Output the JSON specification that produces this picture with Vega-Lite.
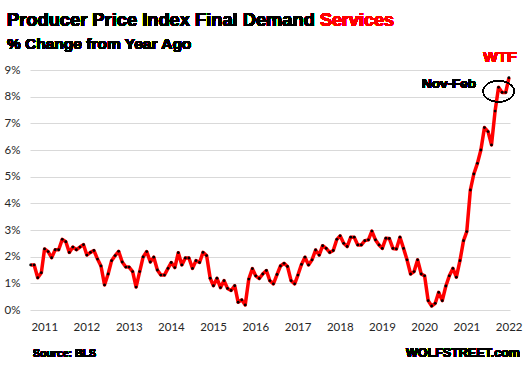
{
  "$schema": "https://vega.github.io/schema/vega-lite/v6.json",
  "width": 480,
  "height": 240,
  "autosize": {"type": "none"},
  "padding": {"left": 30, "top": 70, "right": 13, "bottom": 60},
  "background": "white",
  "config": {"view": {"stroke": null}, "font": "Lato"},
  "data": {
    "values": [
      {"date": "2010-11-01", "v": 1.69}, {"date": "2010-12-01", "v": 1.69},
      {"date": "2011-01-01", "v": 1.21}, {"date": "2011-02-01", "v": 1.40}, {"date": "2011-03-01", "v": 2.29}, {"date": "2011-04-01", "v": 2.19}, {"date": "2011-05-01", "v": 1.96}, {"date": "2011-06-01", "v": 2.26}, {"date": "2011-07-01", "v": 2.26}, {"date": "2011-08-01", "v": 2.65}, {"date": "2011-09-01", "v": 2.56}, {"date": "2011-10-01", "v": 2.16}, {"date": "2011-11-01", "v": 2.36}, {"date": "2011-12-01", "v": 2.26},
      {"date": "2012-01-01", "v": 2.36}, {"date": "2012-02-01", "v": 2.45}, {"date": "2012-03-01", "v": 2.06}, {"date": "2012-04-01", "v": 2.16}, {"date": "2012-05-01", "v": 2.23}, {"date": "2012-06-01", "v": 1.91}, {"date": "2012-07-01", "v": 1.65}, {"date": "2012-08-01", "v": 0.94}, {"date": "2012-09-01", "v": 1.35}, {"date": "2012-10-01", "v": 1.85}, {"date": "2012-11-01", "v": 2.04}, {"date": "2012-12-01", "v": 2.20},
      {"date": "2013-01-01", "v": 1.80}, {"date": "2013-02-01", "v": 1.61}, {"date": "2013-03-01", "v": 1.61}, {"date": "2013-04-01", "v": 1.44}, {"date": "2013-05-01", "v": 0.86}, {"date": "2013-06-01", "v": 1.44}, {"date": "2013-07-01", "v": 1.99}, {"date": "2013-08-01", "v": 2.19}, {"date": "2013-09-01", "v": 1.80}, {"date": "2013-10-01", "v": 1.98}, {"date": "2013-11-01", "v": 1.50}, {"date": "2013-12-01", "v": 1.31},
      {"date": "2014-01-01", "v": 1.31}, {"date": "2014-02-01", "v": 1.56}, {"date": "2014-03-01", "v": 1.78}, {"date": "2014-04-01", "v": 1.59}, {"date": "2014-05-01", "v": 2.15}, {"date": "2014-06-01", "v": 1.69}, {"date": "2014-07-01", "v": 1.95}, {"date": "2014-08-01", "v": 1.95}, {"date": "2014-09-01", "v": 1.56}, {"date": "2014-10-01", "v": 1.85}, {"date": "2014-11-01", "v": 1.78}, {"date": "2014-12-01", "v": 2.16},
      {"date": "2015-01-01", "v": 2.04}, {"date": "2015-02-01", "v": 1.19}, {"date": "2015-03-01", "v": 0.91}, {"date": "2015-04-01", "v": 1.19}, {"date": "2015-05-01", "v": 0.84}, {"date": "2015-06-01", "v": 1.10}, {"date": "2015-07-01", "v": 0.81}, {"date": "2015-08-01", "v": 0.73}, {"date": "2015-09-01", "v": 0.91}, {"date": "2015-10-01", "v": 0.29}, {"date": "2015-11-01", "v": 0.38}, {"date": "2015-12-01", "v": 0.19},
      {"date": "2016-01-01", "v": 1.16}, {"date": "2016-02-01", "v": 1.55}, {"date": "2016-03-01", "v": 1.28}, {"date": "2016-04-01", "v": 1.18}, {"date": "2016-05-01", "v": 1.35}, {"date": "2016-06-01", "v": 1.48}, {"date": "2016-07-01", "v": 1.10}, {"date": "2016-08-01", "v": 0.98}, {"date": "2016-09-01", "v": 1.33}, {"date": "2016-10-01", "v": 1.65}, {"date": "2016-11-01", "v": 1.75}, {"date": "2016-12-01", "v": 1.63},
      {"date": "2017-01-01", "v": 1.10}, {"date": "2017-02-01", "v": 0.98}, {"date": "2017-03-01", "v": 1.31}, {"date": "2017-04-01", "v": 1.71}, {"date": "2017-05-01", "v": 1.98}, {"date": "2017-06-01", "v": 1.69}, {"date": "2017-07-01", "v": 1.88}, {"date": "2017-08-01", "v": 2.25}, {"date": "2017-09-01", "v": 2.06}, {"date": "2017-10-01", "v": 2.41}, {"date": "2017-11-01", "v": 2.31}, {"date": "2017-12-01", "v": 2.16},
      {"date": "2018-01-01", "v": 2.23}, {"date": "2018-02-01", "v": 2.65}, {"date": "2018-03-01", "v": 2.78}, {"date": "2018-04-01", "v": 2.50}, {"date": "2018-05-01", "v": 2.38}, {"date": "2018-06-01", "v": 2.73}, {"date": "2018-07-01", "v": 2.73}, {"date": "2018-08-01", "v": 2.44}, {"date": "2018-09-01", "v": 2.44}, {"date": "2018-10-01", "v": 2.60}, {"date": "2018-11-01", "v": 2.63}, {"date": "2018-12-01", "v": 2.96},
      {"date": "2019-01-01", "v": 2.63}, {"date": "2019-02-01", "v": 2.44}, {"date": "2019-03-01", "v": 2.31}, {"date": "2019-04-01", "v": 2.69}, {"date": "2019-05-01", "v": 2.68}, {"date": "2019-06-01", "v": 2.31}, {"date": "2019-07-01", "v": 2.29}, {"date": "2019-08-01", "v": 2.73}, {"date": "2019-09-01", "v": 2.31}, {"date": "2019-10-01", "v": 1.88}, {"date": "2019-11-01", "v": 1.35}, {"date": "2019-12-01", "v": 1.44},
      {"date": "2020-01-01", "v": 1.88}, {"date": "2020-02-01", "v": 1.35}, {"date": "2020-03-01", "v": 1.28}, {"date": "2020-04-01", "v": 0.35}, {"date": "2020-05-01", "v": 0.15}, {"date": "2020-06-01", "v": 0.25}, {"date": "2020-07-01", "v": 0.66}, {"date": "2020-08-01", "v": 0.35}, {"date": "2020-09-01", "v": 0.90}, {"date": "2020-10-01", "v": 1.28}, {"date": "2020-11-01", "v": 1.56}, {"date": "2020-12-01", "v": 1.23},
      {"date": "2021-01-01", "v": 1.85}, {"date": "2021-02-01", "v": 2.60}, {"date": "2021-03-01", "v": 2.94}, {"date": "2021-04-01", "v": 4.50}, {"date": "2021-05-01", "v": 5.10}, {"date": "2021-06-01", "v": 5.50}, {"date": "2021-07-01", "v": 6.00}, {"date": "2021-08-01", "v": 6.84}, {"date": "2021-09-01", "v": 6.69}, {"date": "2021-10-01", "v": 6.19}, {"date": "2021-11-01", "v": 7.46}, {"date": "2021-12-01", "v": 8.35},
      {"date": "2022-01-01", "v": 8.16}, {"date": "2022-02-01", "v": 8.16}, {"date": "2022-03-01", "v": 8.71}
    ]
  },
  "encoding": {
    "x": {
      "field": "date",
      "type": "temporal",
      "scale": {
        "type": "utc",
        "domain": [
          {"year": 2010, "month": 10, "date": 26, "utc": true},
          {"year": 2022, "month": 3, "date": 10, "utc": true}
        ]
      },
      "axis": {
        "title": null,
        "grid": false,
        "domain": false,
        "ticks": false,
        "format": "%Y",
        "formatType": "utc",
        "values": [
          {"year": 2011, "month": 1, "date": 1, "utc": true},
          {"year": 2012, "month": 1, "date": 1, "utc": true},
          {"year": 2013, "month": 1, "date": 1, "utc": true},
          {"year": 2014, "month": 1, "date": 1, "utc": true},
          {"year": 2015, "month": 1, "date": 1, "utc": true},
          {"year": 2016, "month": 1, "date": 1, "utc": true},
          {"year": 2017, "month": 1, "date": 1, "utc": true},
          {"year": 2018, "month": 1, "date": 1, "utc": true},
          {"year": 2019, "month": 1, "date": 1, "utc": true},
          {"year": 2020, "month": 1, "date": 1, "utc": true},
          {"year": 2021, "month": 1, "date": 1, "utc": true},
          {"year": 2022, "month": 1, "date": 1, "utc": true}
        ],
        "labelOffset": 6.5,
        "labelPadding": 11,
        "labelFont": "Lato",
        "labelFontSize": 11.5,
        "labelColor": "#262626",
        "labelFlush": false,
        "labelOverlap": false
      }
    },
    "y": {
      "field": "v",
      "type": "quantitative",
      "scale": {"domain": [0, 9], "nice": false},
      "axis": {
        "title": null,
        "values": [0, 1, 2, 3, 4, 5, 6, 7, 8, 9],
        "labelExpr": "datum.value + '%'",
        "domain": false,
        "ticks": false,
        "grid": true,
        "gridColor": "#d9d9d9",
        "gridWidth": 1,
        "labelPadding": 10,
        "labelFont": "Lato",
        "labelFontSize": 11.5,
        "labelColor": "#262626"
      }
    }
  },
  "layer": [
    {"mark": {"type": "line", "color": "#ff0000", "strokeWidth": 3.5, "strokeJoin": "round"}},
    {"mark": {"type": "point", "filled": true, "color": "#000000", "size": 8, "opacity": 1}},
    {
      "mark": {"type": "text", "text": "Producer Price Index Final Demand", "color": "#000000", "font": "Liberation Sans", "fontSize": 18.3, "fontWeight": "bold", "align": "left", "baseline": "alphabetic"},
      "encoding": {
        "x": {"datum": {"year": 2010, "month": 4, "date": 10, "utc": true}, "type": "temporal"},
        "y": {"datum": 10.65, "type": "quantitative"}
      }
    },
    {
      "mark": {"type": "text", "text": "Services", "color": "#ff0000", "font": "Liberation Sans", "fontSize": 18, "fontWeight": "bold", "align": "left", "baseline": "alphabetic"},
      "encoding": {
        "x": {"datum": {"year": 2017, "month": 9, "date": 8, "utc": true}, "type": "temporal"},
        "y": {"datum": 10.65, "type": "quantitative"}
      }
    },
    {
      "mark": {"type": "text", "text": "% Change from Year Ago", "color": "#000000", "font": "Liberation Sans", "fontSize": 15.5, "fontWeight": "bold", "align": "left", "baseline": "alphabetic"},
      "encoding": {
        "x": {"datum": {"year": 2010, "month": 4, "date": 10, "utc": true}, "type": "temporal"},
        "y": {"datum": 9.8, "type": "quantitative"}
      }
    },
    {
      "mark": {"type": "text", "text": "WTF", "color": "#ff0000", "font": "Liberation Sans", "fontSize": 15.5, "fontWeight": "bold", "align": "center", "baseline": "middle"},
      "encoding": {
        "x": {"datum": {"year": 2021, "month": 12, "date": 13, "utc": true}, "type": "temporal"},
        "y": {"datum": 9.47, "type": "quantitative"}
      }
    },
    {
      "mark": {"type": "text", "text": "Nov-Feb", "color": "#000000", "font": "Liberation Sans", "fontSize": 13.5, "fontWeight": "bold", "align": "center", "baseline": "middle"},
      "encoding": {
        "x": {"datum": {"year": 2020, "month": 9, "date": 28, "utc": true}, "type": "temporal"},
        "y": {"datum": 8.49, "type": "quantitative"}
      }
    },
    {
      "mark": {"type": "point", "shape": "M -1 0 A 1 0.68 0 1 0 1 0 A 1 0.68 0 1 0 -1 0 Z", "filled": false, "stroke": "#000000", "strokeWidth": 1, "size": 961, "opacity": 1},
      "encoding": {
        "x": {"datum": {"year": 2021, "month": 12, "date": 2, "utc": true}, "type": "temporal"},
        "y": {"datum": 8.2, "type": "quantitative"}
      }
    },
    {
      "mark": {"type": "text", "text": "Source: BLS", "color": "#000000", "font": "Liberation Sans", "fontSize": 10.5, "fontWeight": "bold", "align": "left", "baseline": "middle"},
      "encoding": {
        "x": {"datum": {"year": 2010, "month": 11, "date": 21, "utc": true}, "type": "temporal"},
        "y": {"datum": -1.65, "type": "quantitative"}
      }
    },
    {
      "mark": {"type": "text", "text": "WOLFSTREET.com", "color": "#000000", "font": "Liberation Sans", "fontSize": 12.5, "fontWeight": "bold", "align": "right", "baseline": "middle"},
      "encoding": {
        "x": {"datum": {"year": 2022, "month": 6, "date": 4, "utc": true}, "type": "temporal"},
        "y": {"datum": -1.61, "type": "quantitative"}
      }
    }
  ]
}
